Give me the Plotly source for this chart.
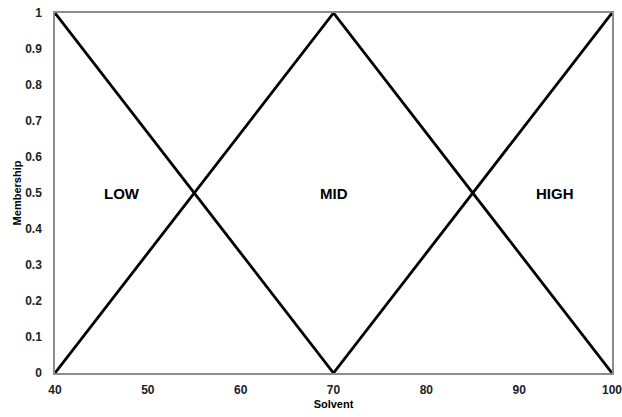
import plotly.graph_objects as go

# Funções de pertinência (Solvent)
low_x = [40, 70]
low_y = [1, 0]
mid_x = [40, 70, 100]
mid_y = [0, 1, 0]
high_x = [70, 100]
high_y = [0, 1]

labels = ["LOW", "MID", "HIGH"]
label_x = [47.2, 70, 93.9]
label_y = [0.5, 0.5, 0.5]

x_ticks = [40, 50, 60, 70, 80, 90, 100]
y_ticks = [0, 0.1, 0.2, 0.3, 0.4, 0.5, 0.6, 0.7, 0.8, 0.9, 1]
y_ticktext = ["0", "0.1", "0.2", "0.3", "0.4", "0.5", "0.6", "0.7", "0.8", "0.9", "1"]

FONT = "Liberation Sans, Arial"

fig = go.Figure()
for xs, ys in [(low_x, low_y), (mid_x, mid_y), (high_x, high_y)]:
    fig.add_trace(go.Scatter(x=xs, y=ys, mode="lines",
                             line=dict(color="black", width=2.8), showlegend=False,
                             cliponaxis=False))

for txt, x, y in zip(labels, label_x, label_y):
    fig.add_annotation(x=x, y=y, text=f"<b>{txt}</b>", showarrow=False,
                       font=dict(family=FONT, size=15, color="black"))

axis_style = dict(
    showline=True, mirror=True, linecolor="#8c8c8c", linewidth=1.5,
    showgrid=False, zeroline=False, ticks="", automargin=False,
    ticklabeloverflow="allow",
    tickfont=dict(family=FONT, size=12, color="#222", weight="bold"),
)

fig.update_layout(
    width=622, height=417,
    margin=dict(l=55, r=10, t=13, b=44),
    plot_bgcolor="white", paper_bgcolor="white",
    xaxis=dict(range=[40, 100], tickvals=x_ticks, ticklabelstandoff=5,
               title=dict(text="<b>Solvent</b>", standoff=4,
                          font=dict(family=FONT, size=11, color="black")),
               **axis_style),
    yaxis=dict(range=[0, 1], tickvals=y_ticks, ticktext=y_ticktext, ticklabelstandoff=9,
               title=dict(text="<b>Membership</b>", standoff=1,
                          font=dict(family=FONT, size=11, color="black")),
               **axis_style),
)

# sem margem do body, para a figura ocupar a janela inteira
fig.write_html("out.html", config={"displayModeBar": False},
               post_script="document.body.style.margin='0px';")
